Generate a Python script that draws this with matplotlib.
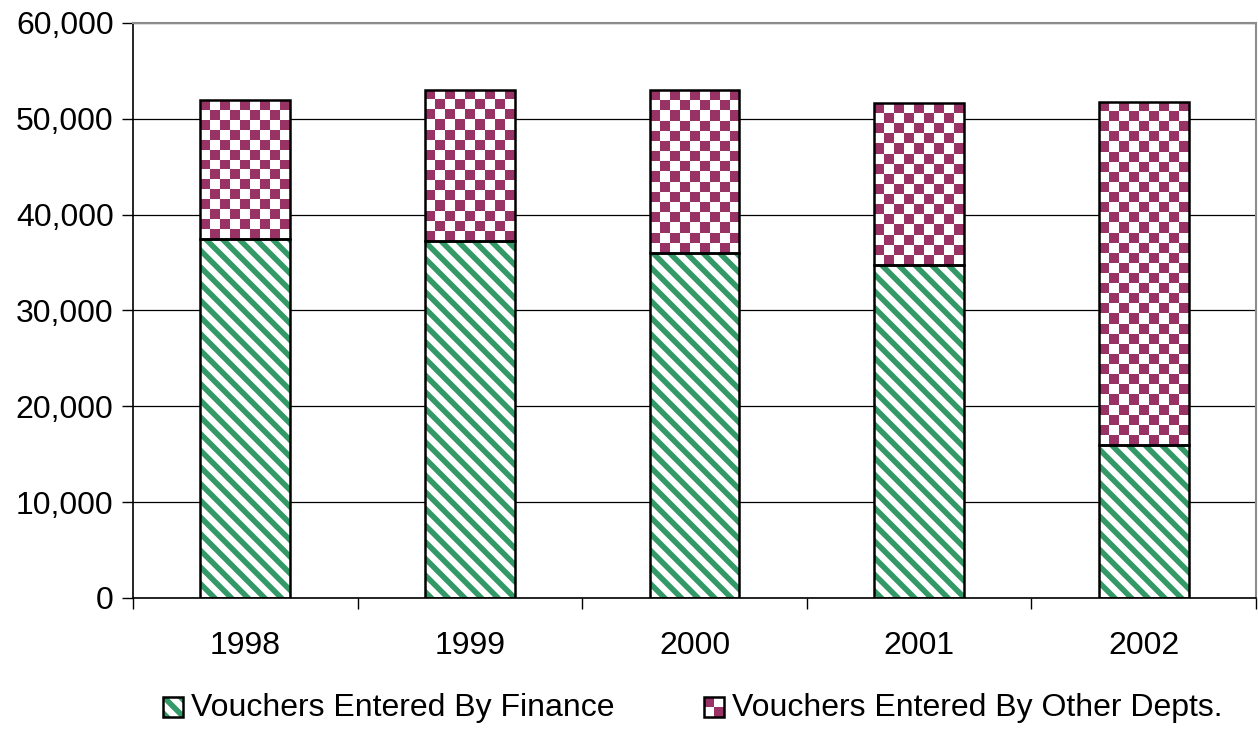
import numpy as np
import matplotlib
import matplotlib.pyplot as plt
from matplotlib.patches import Rectangle
from matplotlib.legend_handler import HandlerBase
from matplotlib.ticker import FuncFormatter

plt.rcParams['font.family'] = ['Liberation Sans', 'DejaVu Sans']
plt.rcParams['hatch.linewidth'] = 4.0

years = ["1998", "1999", "2000", "2001", "2002"]
finance = [37500, 37200, 36000, 34700, 16000]
other = [14500, 15800, 17000, 16900, 35800]
labels = ["Vouchers Entered By Finance", "Vouchers Entered By Other Depts."]

green = "#339966"
maroon = "#993366"

fig = plt.figure(figsize=(12.58, 7.46), dpi=100)
ax = fig.add_axes([0.1057, 0.1984, 0.8927, 0.7708])

x = np.arange(len(years))
w = 0.4

# green striped bars: hatch layer then black outline
ax.bar(x, finance, w, facecolor="white", edgecolor=green, hatch="\\\\", linewidth=0, zorder=2)
ax.bar(x, finance, w, fill=False, edgecolor="black", linewidth=1.8, zorder=4)

# checkered bars
top_bars = ax.bar(x, other, w, bottom=finance, facecolor="white", linewidth=0, zorder=2)
ax.bar(x, other, w, bottom=finance, fill=False, edgecolor="black", linewidth=1.8, zorder=4)

ax.set_xlim(-0.5, len(years) - 0.5)
ax.set_ylim(0, 60000)

# fill each checkered bar with a checkerboard image clipped to the bar
cell = 10.0  # pixels
for b in top_bars:
    x0, y0 = b.get_x(), b.get_y()
    x1, y1 = x0 + b.get_width(), y0 + b.get_height()
    p0 = ax.transData.transform((x0, y0))
    p1 = ax.transData.transform((x1, y1))
    nx = max(1, int(round((p1[0] - p0[0]) / cell)))
    ny = max(1, int(round((p1[1] - p0[1]) / cell)))
    ii, jj = np.indices((ny, nx))
    mask = (ii + jj) % 2 == 0
    img = np.ones((ny, nx, 3))
    img[mask] = matplotlib.colors.to_rgb(maroon)
    im = ax.imshow(img, extent=(x0, x1, y0, y1), aspect="auto",
                   interpolation="nearest", origin="upper", zorder=3)
    im.set_clip_path(b)

ax.set_xlim(-0.5, len(years) - 0.5)
ax.set_ylim(0, 60000)
ax.set_aspect("auto")

# axes styling
ax.set_yticks(np.arange(0, 60001, 10000))
ax.yaxis.set_major_formatter(FuncFormatter(lambda v, p: f"{int(v):,}"))
ax.yaxis.grid(True, color="black", linewidth=0.9)
ax.set_axisbelow(True)
ax.tick_params(axis="y", direction="out", length=8, width=1, labelsize=23, pad=6)

ax.set_xticks(np.arange(-0.5, len(years), 1.0))
ax.set_xticklabels([])
ax.set_xticks(x, minor=True)
ax.set_xticklabels(years, minor=True)
ax.tick_params(axis="x", which="major", direction="out", length=8, width=1)
ax.tick_params(axis="x", which="minor", length=0, labelsize=23, pad=24)

for s in ["left", "bottom"]:
    ax.spines[s].set_color("black")
    ax.spines[s].set_linewidth(1.2)
for s in ["top", "right"]:
    ax.spines[s].set_color("#8c8c8c")
    ax.spines[s].set_linewidth(1.5)


class StripeHandler(HandlerBase):
    def create_artists(self, legend, orig, xd, yd, width, height, fontsize, trans):
        s = height
        r = Rectangle((xd, yd), s, s, facecolor="white", edgecolor=green,
                      hatch="\\\\", linewidth=0, transform=trans)
        e = Rectangle((xd, yd), s, s, fill=False, edgecolor="black",
                      linewidth=1.8, transform=trans)
        return [r, e]


class CheckerHandler(HandlerBase):
    def create_artists(self, legend, orig, xd, yd, width, height, fontsize, trans):
        s = height
        h = s / 2
        arts = [Rectangle((xd, yd), s, s, facecolor="white", linewidth=0, transform=trans),
                Rectangle((xd, yd + h), h, h, facecolor=maroon, linewidth=0, transform=trans),
                Rectangle((xd + h, yd), h, h, facecolor=maroon, linewidth=0, transform=trans),
                Rectangle((xd, yd), s, s, fill=False, edgecolor="black",
                          linewidth=1.8, transform=trans)]
        return arts


h1 = Rectangle((0, 0), 1, 1)
h2 = Rectangle((0, 1), 1, 1)
fig.legend([h1, h2], labels, loc="center", bbox_to_anchor=(0.551, 0.051),
           ncol=2, frameon=False, fontsize=23, handlelength=0.58, handleheight=0.58,
           handletextpad=0.3, columnspacing=2.8,
           handler_map={h1: StripeHandler(), h2: CheckerHandler()})

fig.savefig("out.png", dpi=100)
